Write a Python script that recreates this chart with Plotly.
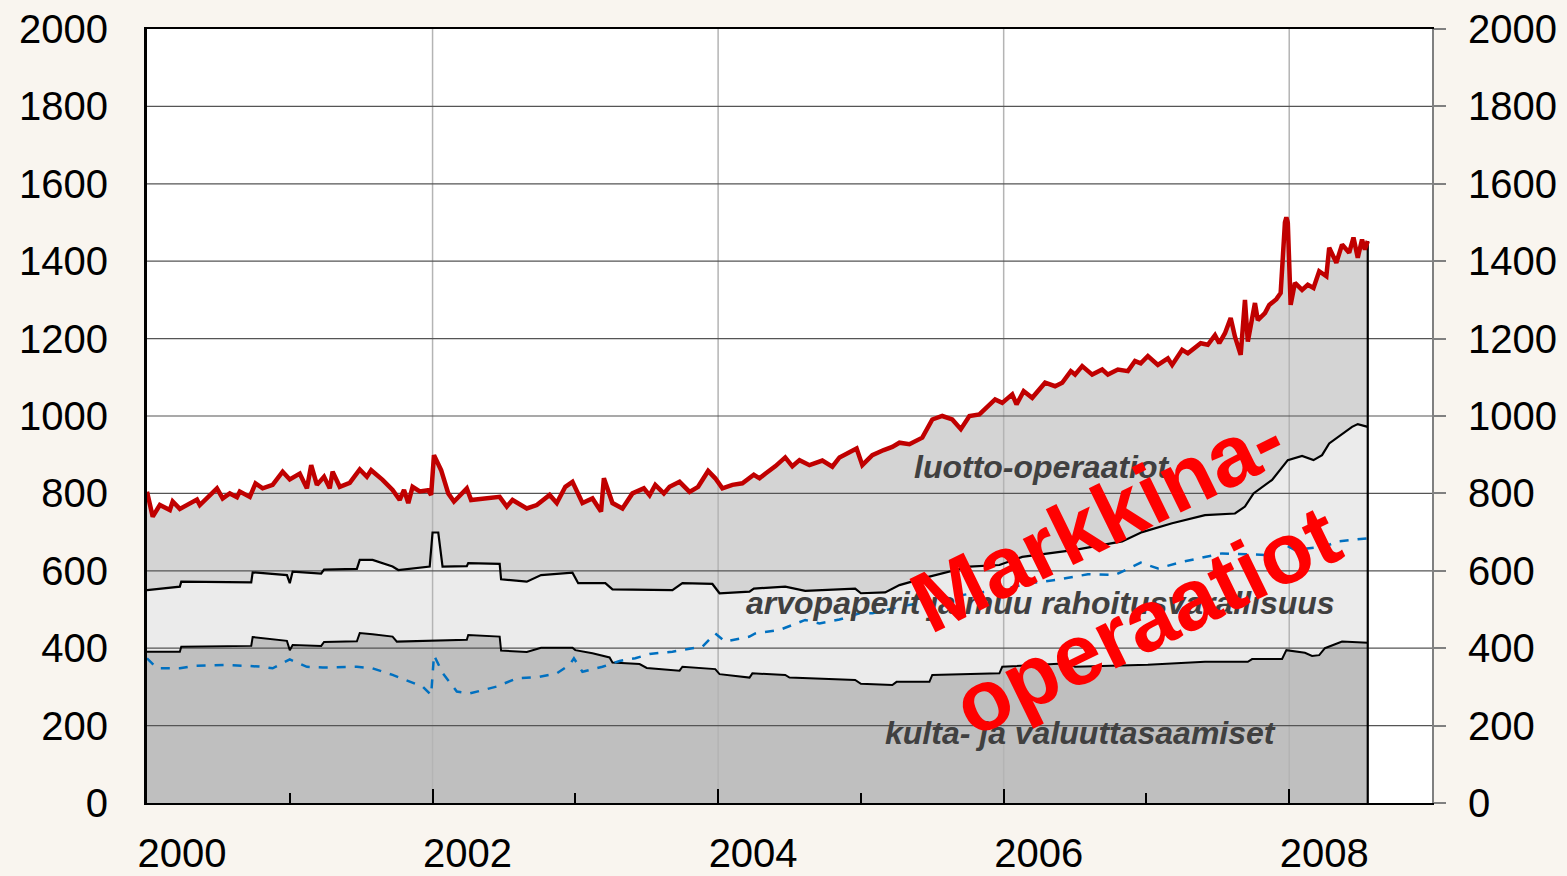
import plotly.graph_objects as go

# ---------------- data (decimal years / bn EUR) ----------------
kulta_year = [2000.00, 2000.23, 2000.24, 2000.73, 2000.74, 2000.98, 2001.00, 2001.02, 2001.22, 2001.24,
              2001.47, 2001.49, 2001.58, 2001.72, 2001.75, 2001.98, 2002.24, 2002.25, 2002.47, 2002.48,
              2002.66, 2002.76, 2002.98, 2003.00, 2003.12, 2003.24, 2003.26, 2003.45, 2003.50, 2003.73,
              2003.75, 2003.98, 2004.01, 2004.22, 2004.24, 2004.47, 2004.50, 2004.96, 2005.00, 2005.22,
              2005.25, 2005.48, 2005.50, 2005.97, 2005.99, 2006.45, 2006.50, 2007.01, 2007.41, 2007.71,
              2007.74, 2007.95, 2007.98, 2008.11, 2008.16, 2008.21, 2008.25, 2008.37, 2008.55]
kulta_value = [391, 391, 404, 406, 429, 419, 395, 408, 406, 416,
               418, 439, 436, 430, 417, 420, 422, 434, 430, 394,
               390, 401, 401, 395, 387, 376, 363, 359, 349, 342,
               352, 346, 333, 324, 335, 331, 324, 318, 308, 305,
               313, 313, 331, 335, 352, 361, 352, 357, 365, 365,
               372, 372, 395, 388, 380, 382, 400, 417, 414]

arvo_year = [2000.00, 2000.23, 2000.24, 2000.73, 2000.74, 2000.98, 2001.00, 2001.02, 2001.22, 2001.24,
             2001.47, 2001.49, 2001.58, 2001.64, 2001.72, 2001.76, 2001.98, 2002.00, 2002.04, 2002.07,
             2002.24, 2002.25, 2002.47, 2002.48, 2002.66, 2002.76, 2002.98, 2003.02, 2003.21, 2003.26,
             2003.52, 2003.68, 2003.75, 2003.96, 2004.01, 2004.22, 2004.25, 2004.47, 2004.61, 2004.96,
             2005.00, 2005.17, 2005.27, 2005.48, 2005.76, 2005.97, 2006.13, 2006.50, 2006.83, 2006.97,
             2007.18, 2007.41, 2007.62, 2007.69, 2007.75, 2007.88, 2007.99, 2008.09, 2008.17, 2008.23,
             2008.28, 2008.34, 2008.44, 2008.48, 2008.55]
arvo_value = [550, 559, 572, 570, 596, 589, 568, 598, 593, 603,
              605, 628, 628, 620, 611, 602, 611, 699, 699, 611,
              612, 620, 618, 578, 572, 589, 595, 568, 568, 552,
              550, 550, 568, 566, 542, 546, 554, 559, 548, 554,
              542, 544, 563, 585, 611, 615, 636, 654, 676, 700,
              723, 744, 748, 766, 800, 835, 886, 897, 886, 899,
              929, 946, 972, 979, 972]

rahapohja_year = [2000.00, 2000.07, 2000.23, 2000.32, 2000.56, 2000.81, 2000.88, 2001.00, 2001.12, 2001.23,
                  2001.47, 2001.58, 2001.72, 2001.84, 2001.93, 2001.99, 2002.01, 2002.07, 2002.17, 2002.26,
                  2002.45, 2002.59, 2002.75, 2002.87, 2002.96, 2002.99, 2003.05, 2003.19, 2003.31, 2003.42,
                  2003.52, 2003.68, 2003.89, 2003.98, 2004.05, 2004.22, 2004.26, 2004.43, 2004.52, 2004.61,
                  2004.71, 2004.85, 2004.99, 2005.08, 2005.27, 2005.78, 2005.97, 2006.17, 2006.36, 2006.59,
                  2006.78, 2006.96, 2007.08, 2007.25, 2007.53, 2007.83, 2007.95, 2008.04, 2008.25, 2008.34,
                  2008.55]
rahapohja_value = [374, 348, 348, 354, 357, 352, 348, 371, 352, 350,
                   352, 348, 331, 313, 301, 279, 382, 336, 288, 283,
                   301, 322, 326, 335, 357, 374, 339, 352, 367, 374,
                   385, 391, 404, 438, 417, 430, 438, 447, 460, 473,
                   464, 474, 490, 490, 507, 542, 550, 567, 576, 591,
                   589, 621, 606, 623, 645, 641, 671, 654, 663, 676,
                   684]

total_year = [2000.00, 2000.04, 2000.09, 2000.16, 2000.18, 2000.23, 2000.35, 2000.37, 2000.49, 2000.53,
              2000.58, 2000.63, 2000.65, 2000.72, 2000.76, 2000.81, 2000.88, 2000.95, 2001.00, 2001.07,
              2001.12, 2001.15, 2001.19, 2001.24, 2001.28, 2001.30, 2001.35, 2001.42, 2001.49, 2001.54,
              2001.57, 2001.65, 2001.72, 2001.77, 2001.80, 2001.83, 2001.86, 2001.91, 2001.97, 2001.99,
              2002.01, 2002.06, 2002.11, 2002.15, 2002.18, 2002.24, 2002.27, 2002.40, 2002.47, 2002.52,
              2002.56, 2002.66, 2002.73, 2002.82, 2002.87, 2002.93, 2002.98, 2003.05, 2003.12, 2003.18,
              2003.20, 2003.26, 2003.33, 2003.40, 2003.48, 2003.52, 2003.56, 2003.62, 2003.66, 2003.73,
              2003.80, 2003.86, 2003.93, 2003.98, 2004.03, 2004.10, 2004.17, 2004.25, 2004.29, 2004.33,
              2004.40, 2004.47, 2004.52, 2004.57, 2004.64, 2004.73, 2004.80, 2004.85, 2004.92, 2004.97,
              2005.01, 2005.08, 2005.16, 2005.22, 2005.27, 2005.34, 2005.43, 2005.50, 2005.57, 2005.64,
              2005.70, 2005.76, 2005.83, 2005.90, 2005.94, 2005.99, 2006.06, 2006.09, 2006.14, 2006.20,
              2006.29, 2006.36, 2006.41, 2006.47, 2006.50, 2006.55, 2006.62, 2006.69, 2006.73, 2006.80,
              2006.87, 2006.92, 2006.96, 2007.01, 2007.08, 2007.15, 2007.18, 2007.25, 2007.29, 2007.38,
              2007.43, 2007.48, 2007.51, 2007.55, 2007.59, 2007.62, 2007.66, 2007.69, 2007.71, 2007.76,
              2007.78, 2007.83, 2007.86, 2007.91, 2007.94, 2007.97, 2007.98, 2007.99, 2008.01, 2008.04,
              2008.09, 2008.13, 2008.17, 2008.21, 2008.26, 2008.28, 2008.33, 2008.37, 2008.42, 2008.45,
              2008.48, 2008.51, 2008.53, 2008.55]
total_value = [804, 740, 770, 757, 779, 760, 784, 770, 813, 787,
               800, 790, 805, 791, 826, 813, 822, 856, 836, 851,
               813, 873, 822, 843, 813, 856, 817, 827, 862, 843,
               860, 835, 809, 783, 809, 775, 817, 805, 808, 796,
               899, 860, 800, 779, 790, 813, 783, 787, 791, 766,
               783, 761, 770, 796, 775, 817, 830, 775, 787, 753,
               839, 775, 761, 800, 813, 795, 822, 800, 817, 830,
               804, 817, 858, 839, 813, 822, 826, 848, 839, 851,
               870, 893, 870, 886, 873, 885, 869, 893, 905, 916,
               873, 899, 912, 920, 931, 927, 944, 991, 1000, 991,
               966, 1000, 1004, 1030, 1043, 1034, 1056, 1030, 1064, 1047,
               1086, 1077, 1086, 1116, 1107, 1129, 1107, 1120, 1107, 1120,
               1116, 1142, 1136, 1155, 1132, 1149, 1132, 1171, 1162, 1188,
               1184, 1209, 1188, 1214, 1253, 1205, 1158, 1300, 1192, 1292,
               1248, 1266, 1287, 1302, 1318, 1500, 1513, 1500, 1287, 1344,
               1326, 1339, 1331, 1374, 1361, 1435, 1396, 1443, 1422, 1461,
               1409, 1456, 1430, 1452]

y_ticks = [0, 200, 400, 600, 800, 1000, 1200, 1400, 1600, 1800, 2000]
x_major = [2000, 2002, 2004, 2006, 2008]
x_minor = [2001, 2003, 2005, 2007]
x_labels = ["2000", "2002", "2004", "2006", "2008"]
X_RANGE = [2000, 2009]
Y_RANGE = [0, 2000]

area_labels = ["luotto-operaatiot", "arvopaperit ja muu rahoitusvarallisuus", "kulta- ja valuuttasaamiset"]
big_label = "Markkina-<br>operaatiot"

# ---------------- figure ----------------
BG = "#f9f5ef"
FONT = "Liberation Sans, Arial, sans-serif"
fig = go.Figure()

common = dict(mode="lines", hoverinfo="skip", showlegend=False)
# stacked areas
fig.add_trace(go.Scatter(x=kulta_year, y=kulta_value, fill="tozeroy", fillcolor="#bfbfbf",
                         line=dict(width=0), **common))
fig.add_trace(go.Scatter(x=arvo_year, y=arvo_value, fill="tonexty", fillcolor="#ebebeb",
                         line=dict(width=0), **common))
fig.add_trace(go.Scatter(x=total_year, y=total_value, fill="tonexty", fillcolor="#d4d4d4",
                         line=dict(width=0), **common))

# gridlines drawn over the areas (built from the tick values)
vx, vy = [], []
for yr in x_major[1:]:
    vx += [yr, yr, None]
    vy += [Y_RANGE[0], Y_RANGE[1], None]
fig.add_trace(go.Scatter(x=vx, y=vy, line=dict(color="#b4b4b4", width=1.5), **common))
hx, hy = [], []
for v in y_ticks[1:-1]:
    hx += [X_RANGE[0], X_RANGE[1], None]
    hy += [v, v, None]
fig.add_trace(go.Scatter(x=hx, y=hy, line=dict(color="#555555", width=1.2), **common))

# boundary lines
fig.add_trace(go.Scatter(x=kulta_year, y=kulta_value, line=dict(color="black", width=2), **common))
fig.add_trace(go.Scatter(x=arvo_year, y=arvo_value, line=dict(color="black", width=2.2), **common))
fig.add_trace(go.Scatter(x=rahapohja_year, y=rahapohja_value,
                         line=dict(color="#0070c0", width=2.5, dash="dash"), **common))
fig.add_trace(go.Scatter(x=[total_year[-1], total_year[-1]], y=[0, total_value[-1]],
                         line=dict(color="black", width=2.2), **common))
fig.add_trace(go.Scatter(x=total_year, y=total_value, line=dict(color="#c00000", width=4.5), **common))

# invisible trace to activate the right-hand axis
fig.add_trace(go.Scatter(x=[X_RANGE[0]], y=[Y_RANGE[0]], yaxis="y2", mode="markers",
                         marker=dict(opacity=0), hoverinfo="skip", showlegend=False))

label_font = dict(family=FONT, size=32, color="#404040")
fig.add_annotation(x=2006.27, y=868, text="<b><i>%s</i></b>" % area_labels[0], showarrow=False, font=label_font)
fig.add_annotation(x=2006.26, y=517, text="<b><i>%s</i></b>" % area_labels[1], showarrow=False, font=label_font)
fig.add_annotation(x=2006.54, y=181, text="<b><i>%s</i></b>" % area_labels[2], showarrow=False, font=label_font)
fig.add_annotation(x=2006.83, y=603, text="<b>%s</b>" % big_label, showarrow=False, textangle=-26,
                   font=dict(family=FONT, size=86, color="#ff0000"))

fig.update_layout(
    width=1567, height=876,
    margin=dict(l=147, r=135, t=29, b=73, autoexpand=False),
    paper_bgcolor=BG, plot_bgcolor="white",
    showlegend=False,
    font=dict(family=FONT, color="black"),
    xaxis=dict(range=X_RANGE, tickmode="array", tickvals=x_major, ticktext=x_labels,
               ticks="inside", ticklen=14, tickwidth=1.5, tickcolor="black",
               ticklabelshift=35, ticklabelstandoff=14, automargin=False,
               tickfont=dict(size=40, family=FONT, color="black"),
               showgrid=False, zeroline=False, showline=True, linecolor="black", linewidth=2,
               mirror=True, layer="above traces",
               minor=dict(tickmode="array", tickvals=x_minor, ticks="inside", ticklen=10,
                          tickwidth=1.5, tickcolor="black", showgrid=False)),
    yaxis=dict(range=Y_RANGE, tickmode="array", tickvals=y_ticks, ticks="",
               tickfont=dict(size=40, family=FONT, color="black"), ticklabelstandoff=28,
               automargin=False,
               showgrid=False, zeroline=False, showline=True, linecolor="black", linewidth=3,
               layer="above traces"),
    yaxis2=dict(range=Y_RANGE, overlaying="y", side="right", tickmode="array", tickvals=y_ticks,
                ticks="outside", ticklen=12, tickwidth=2, tickcolor="#808080",
                tickfont=dict(size=40, family=FONT, color="black"), ticklabelstandoff=14,
                automargin=False,
                showgrid=False, zeroline=False, showline=True, linecolor="#808080", linewidth=2,
                layer="above traces"),
)

fig.write_html("out.html", config={"displayModeBar": False},
               post_script="document.body.style.margin='0';document.body.style.overflow='hidden';"
                           "document.body.style.background='%s';" % BG)
